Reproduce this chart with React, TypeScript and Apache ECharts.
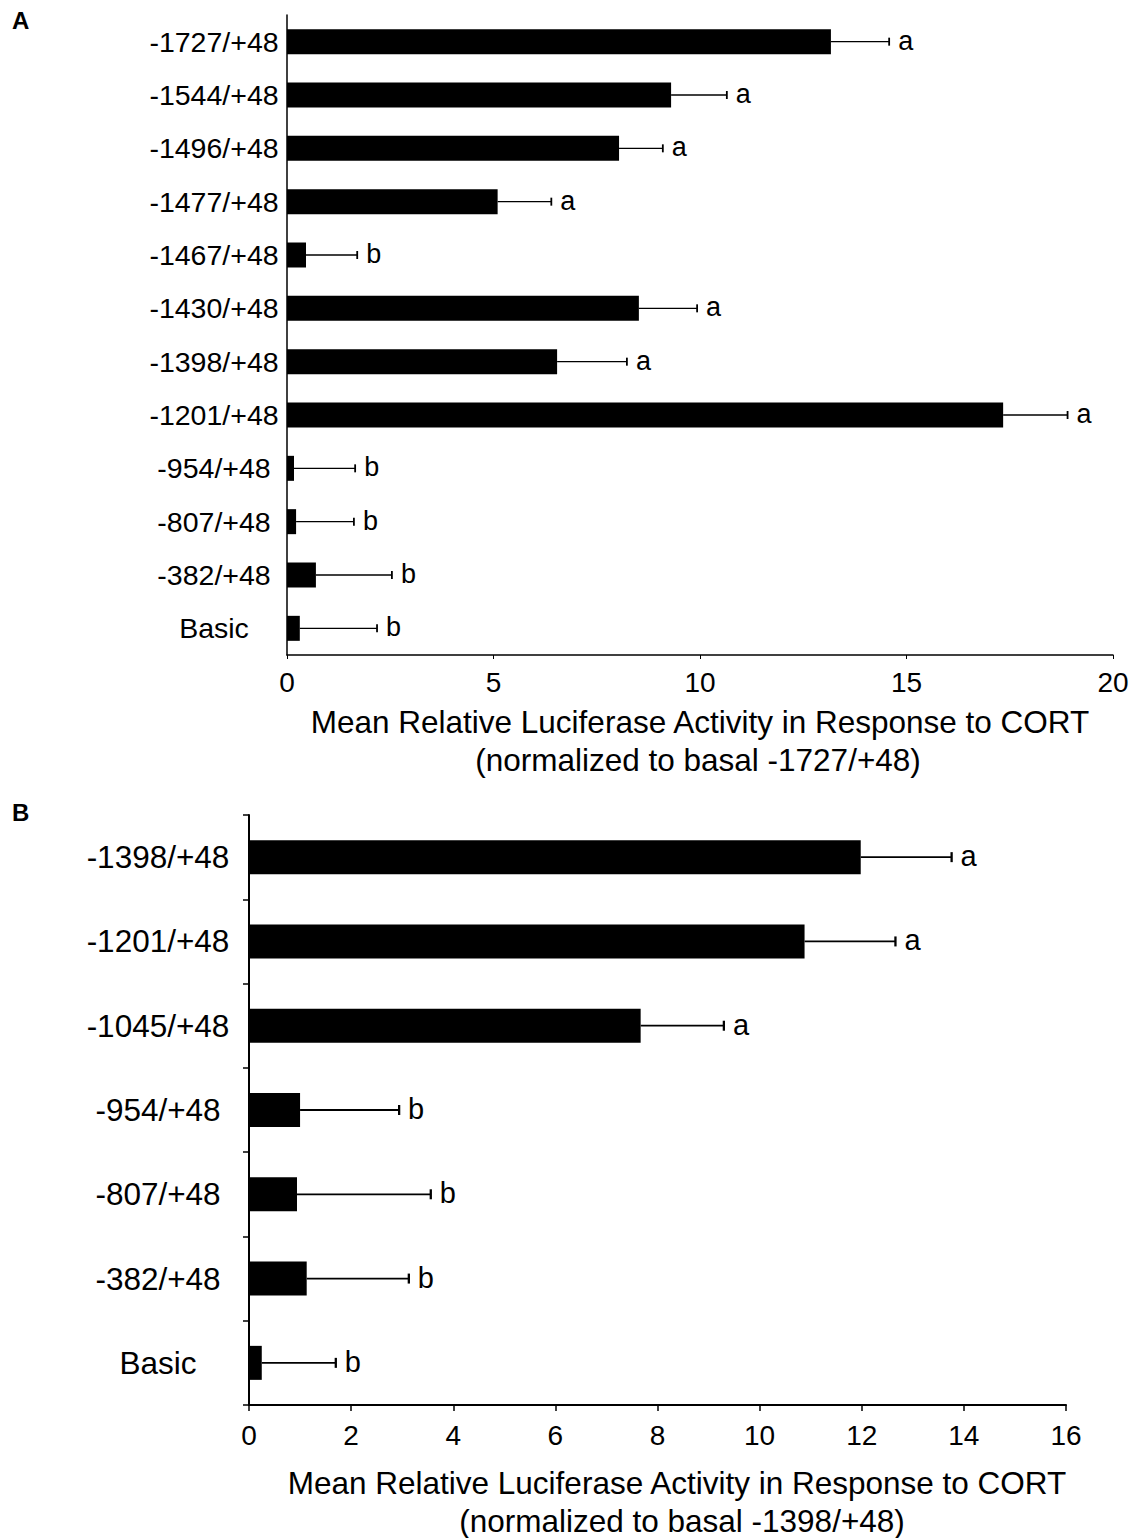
import React, { useEffect, useRef } from "react";
import * as echarts from "echarts";

const catsA = ["-1727/+48", "-1544/+48", "-1496/+48", "-1477/+48", "-1467/+48", "-1430/+48", "-1398/+48", "-1201/+48", "-954/+48", "-807/+48", "-382/+48", "Basic"];
const meansA = [13.17, 9.3, 8.04, 5.1, 0.46, 8.52, 6.54, 17.34, 0.17, 0.22, 0.7, 0.31];
const semA = [1.41, 1.35, 1.06, 1.3, 1.24, 1.41, 1.69, 1.56, 1.48, 1.4, 1.84, 1.87];
const lettersA = ["a", "a", "a", "a", "b", "a", "a", "a", "b", "b", "b", "b"];
const ticksA = { min: 0, max: 20, interval: 5 };

const catsB = ["-1398/+48", "-1201/+48", "-1045/+48", "-954/+48", "-807/+48", "-382/+48", "Basic"];
const meansB = [11.98, 10.88, 7.67, 1.0, 0.94, 1.13, 0.25];
const semB = [1.78, 1.78, 1.63, 1.94, 2.62, 2.0, 1.45];
const lettersB = ["a", "a", "a", "b", "b", "b", "b"];
const ticksB = { min: 0, max: 16, interval: 2 };

const titleA = ["Mean Relative Luciferase Activity in Response to CORT", "(normalized to basal -1727/+48)"];
const titleB = ["Mean Relative Luciferase Activity in Response to CORT", "(normalized to basal -1398/+48)"];

const FONT = "Liberation Sans, Arial, sans-serif";

function errSeries(idx: number, means: number[], sem: number[], letters: string[], cap: number, fontSize: number, lw: number) {
  return {
    type: "custom",
    xAxisIndex: idx,
    yAxisIndex: idx,
    silent: true,
    clip: false,
    data: means.map((m, i) => [m + sem[i], i, m]),
    encode: { x: 0, y: 1 },
    renderItem: (params: any, api: any) => {
      const i = params.dataIndex;
      const s = api.coord([api.value(2), api.value(1)]);
      const e = api.coord([api.value(0), api.value(1)]);
      return {
        type: "group",
        children: [
          { type: "line", shape: { x1: s[0], y1: s[1], x2: e[0], y2: e[1] }, style: { stroke: "#000", lineWidth: lw } },
          { type: "line", shape: { x1: e[0], y1: e[1] - cap / 2, x2: e[0], y2: e[1] + cap / 2 }, style: { stroke: "#000", lineWidth: lw + 0.5 } },
          {
            type: "text",
            x: e[0] + 9,
            y: e[1] - 1,
            style: { text: letters[i], fill: "#000", font: `${fontSize}px ${FONT}`, textAlign: "left", textVerticalAlign: "middle" },
          },
        ],
      };
    },
  };
}

export default function App() {
  const ref = useRef<HTMLDivElement>(null);
  useEffect(() => {
    document.body.style.margin = "0";
    const chart = echarts.init(ref.current!, undefined, { renderer: "svg" });
    const axisText = { color: "#000", fontFamily: FONT };
    chart.setOption({
      animation: false,
      backgroundColor: "#fff",
      grid: [
        { left: 287, top: 15, width: 826, height: 640 },
        { left: 249, top: 815, width: 817, height: 590 },
      ],
      xAxis: [
        {
          gridIndex: 0, type: "value", ...ticksA,
          splitLine: { show: false },
          axisLine: { show: true, lineStyle: { color: "#000", width: 1.5 } },
          axisTick: { show: true, length: 4, lineStyle: { color: "#000" } },
          axisLabel: { ...axisText, fontSize: 28, margin: 13 },
        },
        {
          gridIndex: 1, type: "value", ...ticksB,
          splitLine: { show: false },
          axisLine: { show: true, lineStyle: { color: "#000", width: 2 } },
          axisTick: { show: true, length: 6, lineStyle: { color: "#000", width: 1.5 } },
          axisLabel: { ...axisText, fontSize: 28, margin: 16 },
        },
      ],
      yAxis: [
        {
          gridIndex: 0, type: "category", data: catsA, inverse: true,
          axisLine: { show: true, lineStyle: { color: "#000", width: 1.5 } },
          axisTick: { show: false },
          axisLabel: { ...axisText, fontSize: 28.5, margin: 73, align: "center" },
        },
        {
          gridIndex: 1, type: "category", data: catsB, inverse: true,
          axisLine: { show: true, lineStyle: { color: "#000", width: 2 } },
          axisTick: { show: true, length: 6, lineStyle: { color: "#000", width: 1.5 } },
          axisLabel: { ...axisText, fontSize: 31.5, margin: 91, align: "center" },
        },
      ],
      series: [
        { type: "bar", xAxisIndex: 0, yAxisIndex: 0, data: meansA, barWidth: 25, itemStyle: { color: "#000" }, silent: true },
        errSeries(0, meansA, semA, lettersA, 8, 27, 1.3),
        { type: "bar", xAxisIndex: 1, yAxisIndex: 1, data: meansB, barWidth: 34, itemStyle: { color: "#000" }, silent: true },
        errSeries(1, meansB, semB, lettersB, 10, 29, 1.8),
      ],
      graphic: [
        { type: "text", left: 12, top: 8, style: { text: "A", font: `bold 24px ${FONT}`, fill: "#000" } },
        { type: "text", left: 12, top: 800, style: { text: "B", font: `bold 24px ${FONT}`, fill: "#000" } },
        { type: "text", x: 700, y: 722, style: { text: titleA[0], font: `31.5px ${FONT}`, fill: "#000", textAlign: "center", textVerticalAlign: "middle" } },
        { type: "text", x: 698, y: 760, style: { text: titleA[1], font: `31.5px ${FONT}`, fill: "#000", textAlign: "center", textVerticalAlign: "middle" } },
        { type: "text", x: 677, y: 1483, style: { text: titleB[0], font: `31.5px ${FONT}`, fill: "#000", textAlign: "center", textVerticalAlign: "middle" } },
        { type: "text", x: 682, y: 1521, style: { text: titleB[1], font: `31.5px ${FONT}`, fill: "#000", textAlign: "center", textVerticalAlign: "middle" } },
      ],
    });
    return () => chart.dispose();
  }, []);
  return <div ref={ref} style={{ width: 1143, height: 1538 }} />;
}
